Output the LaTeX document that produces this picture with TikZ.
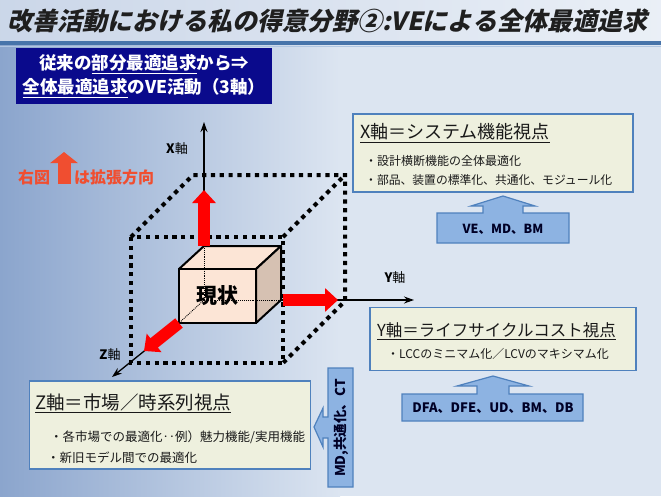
\documentclass[tikz,border=0pt]{standalone}
\usepackage{fontspec}
\setmainfont{Noto Sans CJK JP}
\newfontfamily\titlefont[FakeSlant=0.22]{Noto Sans CJK JP}
\usetikzlibrary{arrows.meta}

\definecolor{navy}{RGB}{10,10,140}
\definecolor{boxcream}{RGB}{238,240,222}
\definecolor{boxline}{RGB}{79,129,189}
\definecolor{callblue}{RGB}{141,179,226}
\definecolor{labelred}{RGB}{240,78,48}
\definecolor{bgleft}{RGB}{139,165,205}
\definecolor{bgright}{RGB}{220,229,241}
\definecolor{cubefront}{RGB}{252,229,214}
\definecolor{cubeside}{RGB}{214,193,178}
\newcommand{\fsz}[1]{\fontsize{#1pt}{#1pt}\selectfont}

\begin{document}
\begin{tikzpicture}[x=1pt,y=-1pt,
  viewbox/.style={draw=boxline,line width=1.6pt,fill=boxcream},
  viewtitle/.style={anchor=west,inner sep=0pt,text=black!90,font=\fsz{#1}},
  viewitem/.style={anchor=west,inner sep=0pt,text=black!90,font=\fsz{#1}},
  callarrow/.style={draw=boxline,line width=1.2pt,fill=callblue,line join=miter},
  calltext/.style={inner sep=0pt,text=black!85!blue,font=\bfseries\fsz{#1}},
  bigdots/.style={line width=4pt,dash pattern=on 4.2pt off 4.6pt},
  hidden/.style={line width=0.9pt,densely dotted},
  axis/.style={line width=1.3pt,-{Stealth[length=10pt,width=7pt]}},
  redarrow/.style={draw=red,line width=12pt,-{Triangle[length=13pt,width=23pt]}},
  axislabel/.style={inner sep=0pt,font=\fsz{13}}]
\useasboundingbox (0,0) rectangle (661,496);

\shade[left color=bgleft,right color=bgright] (0,41) rectangle (340,496);
\fill[bgright] (339,41) rectangle (661,496);
\shade[left color=bgleft!45!white,right color=bgright!60!white] (0,0) rectangle (661,41);
\fill[boxline!90!black] (0,41) rectangle (661,45);
\draw[boxline!45!white,line width=1pt] (0,46) -- (661,46);

\node[anchor=west,inner sep=0pt,text=black!88] (title) at (7,21)
  {\titlefont\bfseries\fsz{25}改善活動における私の得意分野②:VEによる全体最適追求};

\node[fill=navy,text=white,minimum width=256pt,minimum height=56pt,align=center,
  font={\bfseries\fontsize{17.5pt}{24pt}\selectfont}] (head) at (144,76)
  {従来の\underline{部分最適追求}から⇒\\\underline{全体最適追求}のVE活動（3軸）};

\node[inner sep=0pt,text=labelred,font=\bfseries\fsz{16}] (note1) at (34,177) {右図};
\node[anchor=west,inner sep=0pt,text=labelred,font=\bfseries\fsz{16}] (note2) at (74,177) {は拡張方向};
\coordinate (notefoot) at (64,184);
\coordinate (notetip) at (64,152);
\draw[draw=labelred,line width=13pt,-{Triangle[length=11pt,width=27pt]}] (notefoot) -- (notetip);

\coordinate (O) at (204,300);
\coordinate (xend) at (204,122);
\coordinate (yend) at (414,300);
\coordinate (zend) at (112,377);
\coordinate (ctop) at (204,246);
\coordinate (cright) at (281,300);
\coordinate (cfront) at (179,323);

\draw[bigdots] (131,237) rectangle (283,363);
\draw[bigdots] (131,237) -- (193,175) -- (345,175) -- (345,301) -- (283,363);
\draw[bigdots] (283,237) -- (345,175);

\draw[axis] (ctop) -- (xend);
\draw[axis] (cright) -- (yend);
\draw[axis] (cfront) -- (zend);

\filldraw[line width=2pt,fill=cubefront,line join=round] (179,269) -- (204,246) -- (281,246) -- (256,269) -- cycle;
\filldraw[line width=2pt,fill=cubeside,line join=round] (256,269) -- (281,246) -- (281,300) -- (256,323) -- cycle;
\node[draw,line width=2pt,fill=cubefront,minimum width=77pt,minimum height=54pt,
  font=\bfseries\fsz{21}] (genjo) at (217.5,296) {現状};
\draw[hidden] (ctop) -- (O);
\draw[hidden] (O) -- (cright);
\draw[hidden] (O) -- (cfront);

\draw[redarrow] (204,246) -- (204,190);
\draw[redarrow] (283,300) -- (338,300);
\draw[redarrow] (179,323) -- (144,351);

\node[axislabel] (xlab) at (177,149) {{\bfseries X}軸};
\node[axislabel] (ylab) at (395,278) {{\bfseries Y}軸};
\node[axislabel] (zlab) at (110,355) {{\bfseries Z}軸};

\node[viewbox,minimum width=280pt,minimum height=78pt] (xbox) at (493,153) {};
\node[viewtitle=18] (xhead) at (360,133) {\underline{X軸＝システム機能視点}};
\node[viewitem=12] (xitem1) at (365,161) {・設計横断機能の全体最適化};
\node[viewitem=11.8] (xitem2) at (365,180) {・部品、装置の標準化、共通化、モジュール化};

\node[viewbox,minimum width=266pt,minimum height=63pt] (ybox) at (503,339) {};
\node[viewtitle=16.5] (yhead) at (377,331) {\underline{Y軸＝ライフサイクルコスト視点}};
\node[viewitem=12] (yitem1) at (387,354) {・LCCのミニマム化／LCVのマキシマム化};

\node[viewbox,minimum width=281pt,minimum height=88pt] (zbox) at (170,425) {};
\node[viewtitle=18.5] (zhead) at (35,403) {\underline{Z軸＝市場／時系列視点}};
\node[viewitem=12.5] (zitem1) at (50,437) {・各市場での最適化‥例）魅力機能/実用機能};
\node[viewitem=12.5] (zitem2) at (47,458) {・新旧モデル間での最適化};

\draw[callarrow] (437,243) -- (437,213) -- (483,213) -- (483,206) -- (471,206) -- (503,196)
  -- (535,206) -- (523,206) -- (523,213) -- (569,213) -- (569,243) -- cycle;
\node[calltext=12.5] (xtools) at (503,229) {VE、MD、BM};

\draw[callarrow] (402,421) -- (402,394) -- (477,394) -- (477,386) -- (457,386) -- (493,376)
  -- (529,386) -- (509,386) -- (509,394) -- (583,394) -- (583,421) -- cycle;
\node[calltext=13] (ytools) at (493,408) {DFA、DFE、UD、BM、DB};

\draw[callarrow] (353,368) -- (328,368) -- (328,417) -- (323,417) -- (323,408) -- (314,427)
  -- (323,447) -- (323,438) -- (328,438) -- (328,487) -- (353,487) -- cycle;
\node[calltext=13.5,rotate=90] (ztools) at (341,428) {MD,共通化、CT};
\end{tikzpicture}
\end{document}
